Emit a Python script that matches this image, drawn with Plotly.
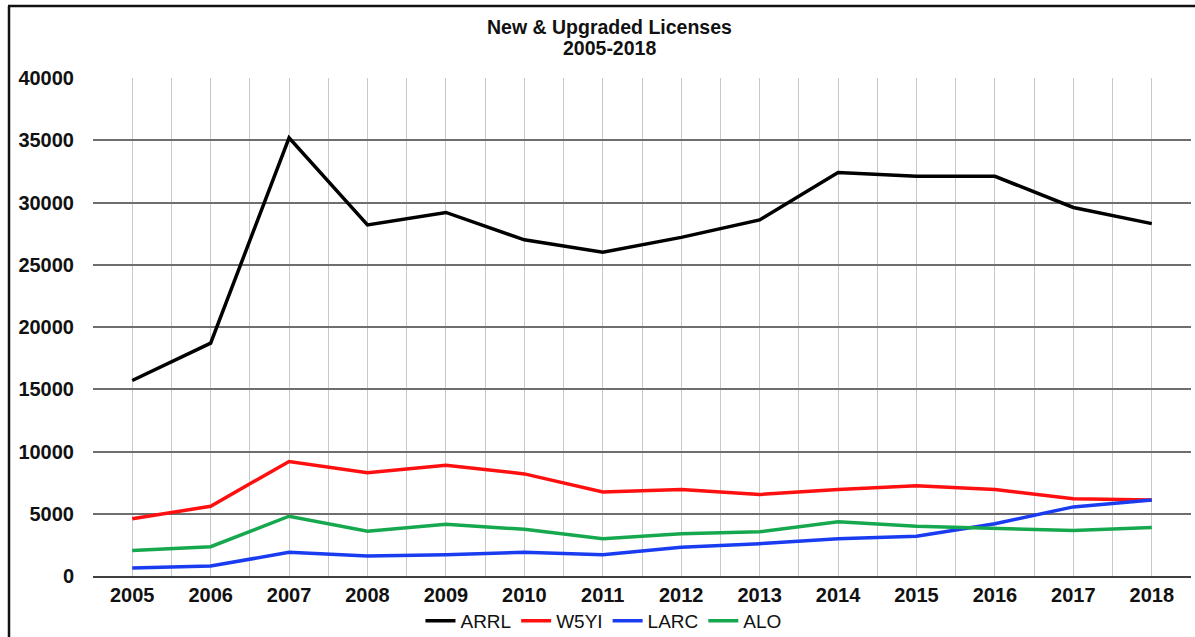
import plotly.graph_objects as go

years = [2005, 2006, 2007, 2008, 2009, 2010, 2011, 2012, 2013, 2014, 2015, 2016, 2017, 2018]
year_labels = [str(y) for y in years]
arrl = [15700, 18700, 35200, 28200, 29200, 27000, 26000, 27200, 28600, 32400, 32100, 32100, 29600, 28300]
w5yi = [4600, 5600, 9200, 8300, 8900, 8200, 6750, 6950, 6550, 6950, 7250, 6950, 6200, 6100]
larc = [650, 800, 1900, 1600, 1700, 1900, 1700, 2300, 2600, 3000, 3200, 4200, 5550, 6100]
alo = [2050, 2350, 4800, 3600, 4150, 3750, 3000, 3400, 3550, 4350, 4000, 3800, 3650, 3900]
y_ticks = [0, 5000, 10000, 15000, 20000, 25000, 30000, 35000, 40000]
title_lines = ["New & Upgraded Licenses", "2005-2018"]

series = [("ARRL", arrl, "#000000"), ("W5YI", w5yi, "#ff1010"),
          ("LARC", larc, "#1a3cf0"), ("ALO", alo, "#16a84e")]

fig = go.Figure()
for name, vals, col in series:
    fig.add_trace(go.Scatter(x=years, y=vals, name=name, mode="lines",
                             line=dict(color=col, width=3.5)))

W, H = 1195, 637
L, R, T, B = 93, 4, 78, 61
pw, ph = W - L - R, H - T - B

def px_x(p):
    return (p - L) / pw

def px_y(p):
    return (H - B - p) / ph

fig.update_layout(
    width=W, height=H,
    margin=dict(l=L, r=R, t=T, b=B, autoexpand=False),
    paper_bgcolor="white", plot_bgcolor="white",
    font=dict(family="Liberation Sans, Arial, sans-serif", color="#111111"),
    showlegend=True,
    legend=dict(orientation="h", x=0.505, xanchor="center", xref="container",
                y=(H - 621) / H, yanchor="middle", yref="container",
                font=dict(size=19, color="#111111"), itemwidth=30,
                traceorder="normal"),
    xaxis=dict(range=[2004.5, 2018.5], tickmode="array", tickvals=years, ticktext=year_labels,
               showgrid=False, zeroline=False, showline=True, linecolor="#404040", linewidth=2,
               ticks="", tickfont=dict(size=20, color="#111111", weight="bold"),
               minor=dict(tickmode="array", tickvals=[y - 0.5 for y in years] + [2018.5] + years,
                          showgrid=True, gridcolor="#c8c8c8", gridwidth=1.2, ticks="")),
    yaxis=dict(range=[0, 40000], tickmode="array", tickvals=y_ticks,
               ticktext=[str(v) for v in y_ticks],
               showgrid=True, gridcolor="#6e6e6e", gridwidth=1.5, zeroline=False,
               showline=False, ticks="", ticklabelstandoff=18,
               tickfont=dict(size=20, color="#111111", weight="bold")),
)

for txt, ypx in zip(title_lines, [27, 48]):
    fig.add_annotation(text="<b>" + txt + "</b>", xref="paper", yref="paper",
                       x=px_x(609), y=px_y(ypx), showarrow=False,
                       font=dict(size=19.5, color="#111111"),
                       xanchor="center", yanchor="middle")

# outer frame (left and top edges)
fig.add_shape(type="line", xref="paper", yref="paper", x0=px_x(9), x1=px_x(9),
              y0=px_y(6), y1=px_y(640), line=dict(color="#111111", width=2.5))
fig.add_shape(type="line", xref="paper", yref="paper", x0=px_x(8), x1=px_x(1200),
              y0=px_y(6), y1=px_y(6), line=dict(color="#111111", width=2.5))

fig.write_html("out.html", config={"displayModeBar": False},
               post_script="document.body.style.margin='0';document.body.style.overflow='hidden';")
